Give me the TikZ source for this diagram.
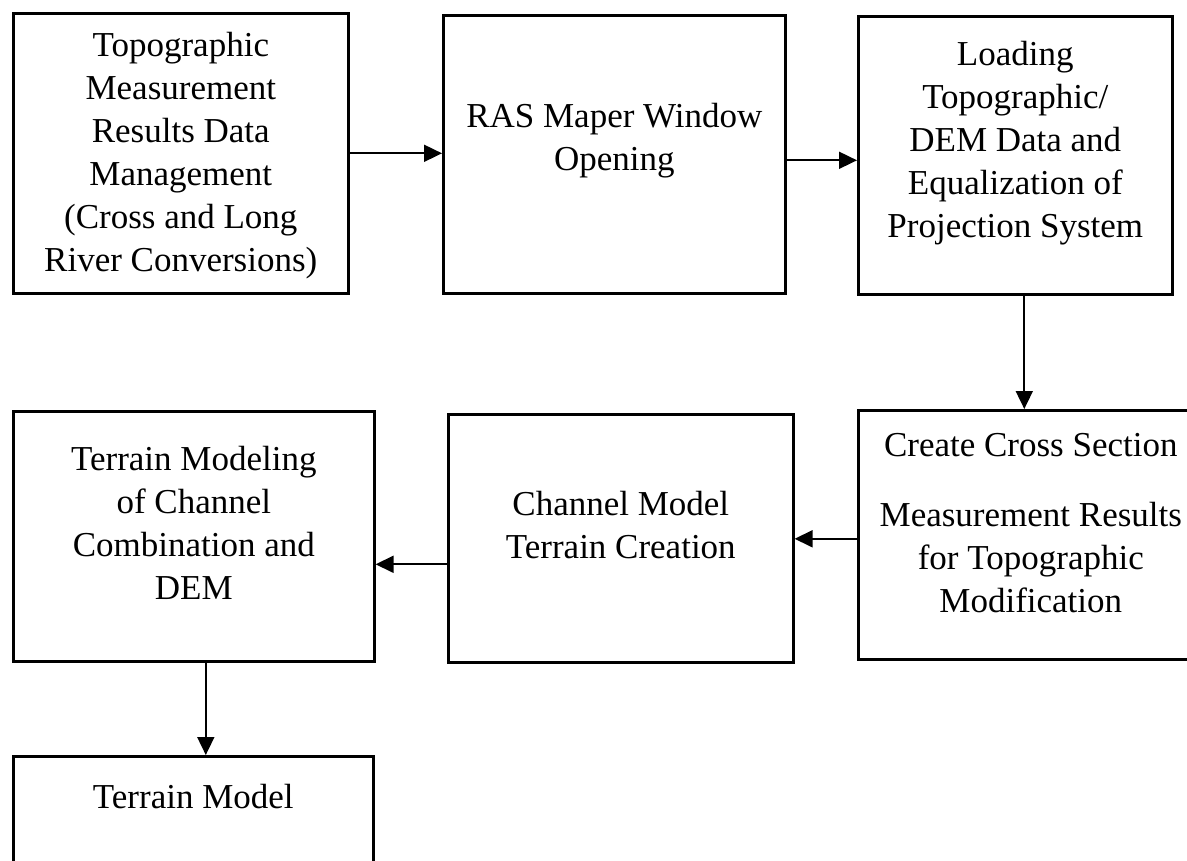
\documentclass[tikz,border=0pt]{standalone}
\usepackage{fontspec}
\setmainfont{Liberation Serif}
\usetikzlibrary{arrows.meta, positioning, calc}

\begin{document}
\begin{tikzpicture}[
    x=1pt,
    y=-1pt,
    >={Triangle[length=18pt, width=17pt]},
    % Styles for the process boxes, their texts and the flow arrows
    stage box/.style={draw, line width=2.6pt, anchor=north west, inner sep=0pt},
    stage text/.style={align=center, inner sep=0pt, font=\fontsize{35}{43}\selectfont},
    flow/.style={->, line width=1.8pt}
]
    % --- 0. PAGE FRAME ---
    \clip (0,0) rectangle (1187,861);

    % --- 1. BOXES (TOP ROW) ---
    \node[stage box, minimum width=335, minimum height=280] (topo) at (12,12) {};
    \node[stage box, minimum width=342, minimum height=278] (rasmap) at (442,14) {};
    \node[stage box, minimum width=314, minimum height=278] (load) at (857,15) {};

    % --- 2. BOXES (MIDDLE ROW, RIGHT TO LEFT) ---
    \node[stage box, minimum width=345, minimum height=249] (cross) at (857,409) {};
    \node[stage box, minimum width=345, minimum height=248] (chan) at (447,413) {};
    \node[stage box, minimum width=361, minimum height=250] (combo) at (12,410) {};

    % --- 3. LAST BOX (CUT BY THE PAGE) ---
    \node[stage box, minimum width=360, minimum height=200] (tmodel) at (12,755) {};

    % --- 4. TEXTS ---
    \node[stage text] (topo-t) at ([yshift=-2pt]topo.center)
        {Topographic\\Measurement\\Results Data\\Management\\(Cross and Long\\River Conversions)};
    \node[stage text] (rasmap-t) at ([yshift=14pt]rasmap.center) {RAS Maper Window\\Opening};
    \node[stage text] (load-t) at ([yshift=12pt]load.center)
        {Loading\\Topographic/\\DEM Data and\\Equalization of\\Projection System};
    \node[stage text] (cross-t) at ([yshift=12pt]cross.center)
        {Create Cross Section\\[27pt]Measurement Results\\for Topographic\\Modification};
    \node[stage text] (chan-t) at ([yshift=13pt]chan.center) {Channel Model\\Terrain Creation};
    \node[stage text] (combo-t) at ([yshift=13pt]combo.center)
        {Terrain Modeling\\of Channel\\Combination and\\DEM};
    \node[stage text] (tmodel-t) at ([yshift=-42pt]tmodel.north) {Terrain Model};

    % --- 5. FLOW ARROWS ---
    \draw[flow] (topo.east) -- (topo.east -| rasmap.west);
    \draw[flow] ([yshift=-6pt]rasmap.east) -- ([yshift=-6pt]rasmap.east -| load.west);
    \draw[flow] ([xshift=9pt]load.south) -- ([xshift=9pt]load.south |- cross.north);
    \draw[flow] ([yshift=-4pt]cross.west) -- ([yshift=-4pt]cross.west -| chan.east);
    \draw[flow] ([yshift=-26pt]chan.west) -- ([yshift=-26pt]chan.west -| combo.east);
    \draw[flow] ([xshift=12pt]combo.south) -- ([xshift=12pt]combo.south |- tmodel.north);

\end{tikzpicture}
\end{document}
